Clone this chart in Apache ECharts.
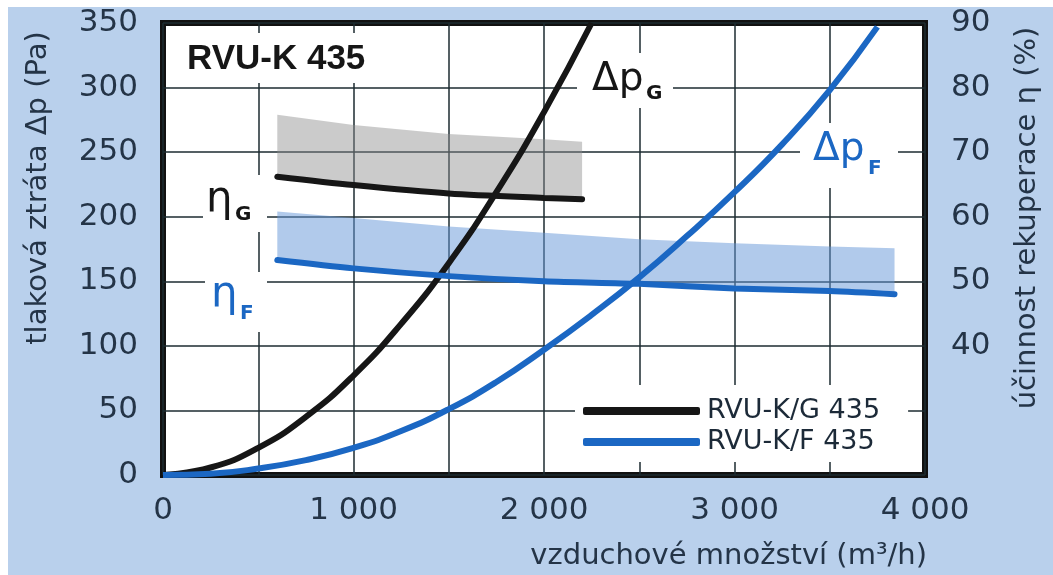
<!DOCTYPE html>
<html><head><meta charset="utf-8">
<script src="https://cdn.jsdelivr.net/npm/echarts@6/dist/echarts.min.js"></script>
<style>html,body{margin:0;padding:0;background:#fff}#c{width:1053px;height:575px}</style>
</head><body><div id="c"></div>
<script>
// ---- data ----
const dpG_x = [0, 250, 500, 750, 1000, 1250, 1500, 1750, 2000, 2250];
const dpG_y = [0, 5.8, 21, 45, 77, 117, 164, 219, 281, 350];
const dpF_x = [0, 250, 500, 750, 1000, 1250, 1500, 1750, 2000, 2250, 2500, 2750, 3000, 3250, 3500, 3750];
const dpF_y = [0, 1, 5, 11.5, 21, 34, 51, 72, 97, 124, 153, 185, 219, 256, 298, 347];
const etaG_x = [600, 1000, 1500, 2000, 2200];
const etaG_y = [66.2, 64.9, 63.6, 62.9, 62.7];
const etaG_top = [75.8, 74.2, 72.8, 72.0, 71.6];
const etaF_x = [600, 1000, 1500, 2000, 2500, 3000, 3500, 3840];
const etaF_y = [53.3, 52.0, 50.8, 50.0, 49.6, 48.9, 48.5, 48.0];
const etaF_top = [60.8, 59.8, 58.5, 57.5, 56.5, 55.9, 55.4, 55.1];
const xLabelValues = [0, 1000, 2000, 3000, 4000];
const xLabelTexts = ['0', '1 000', '2 000', '3 000', '4 000'];
const etaLabelValues = [40, 50, 60, 70, 80, 90];
const seriesNames = ['RVU-K/G 435', 'RVU-K/F 435'];

const zip = (xs, ys) => xs.map((x, i) => [x, ys[i]]);

const BLACK = '#161616', BLUE = '#1b67c3';
const LABEL = '#243447';
const FONT = '"DejaVu Sans", sans-serif';

// band polygon between the efficiency line (bottom) and its upper limit (top)
function bandSeries(name, xs, lo, hi, fill) {
  return {
    name: name, type: 'custom', yAxisIndex: 1, z: 3, silent: true,
    data: [[xs[0], lo[0]]],
    renderItem: function (params, api) {
      const top = xs.map((x, i) => api.coord([x, hi[i]]));
      const bot = xs.map((x, i) => api.coord([x, lo[i]])).reverse();
      return {type: 'polygon', shape: {points: top.concat(bot)}, style: {fill: fill}};
    }
  };
}

const chart = echarts.init(document.getElementById('c'), null, {renderer: 'canvas'});
chart.setOption({
  backgroundColor: '#b9d0ec',
  animation: false,
  grid: {left: 163, right: 128, top: 23, bottom: 100, show: true,
         backgroundColor: '#fff', borderColor: '#111', borderWidth: 6},
  xAxis: {type: 'value', min: 0, max: 4000, interval: 500,
    axisLine: {show: false}, axisTick: {show: false},
    splitLine: {show: true, lineStyle: {color: '#1c2b30', width: 1.5}},
    axisLabel: {margin: 20, color: LABEL, fontFamily: FONT, fontSize: 31,
      formatter: v => { const i = xLabelValues.indexOf(v); return i >= 0 ? xLabelTexts[i] : ''; }}
  },
  yAxis: [
    {type: 'value', min: 0, max: 350, interval: 50,
      axisLine: {show: false}, axisTick: {show: false},
      splitLine: {show: true, lineStyle: {color: '#1c2b30', width: 1.5}},
      axisLabel: {margin: 25, color: LABEL, fontFamily: FONT, fontSize: 31}},
    {type: 'value', min: 20, max: 90, interval: 10, position: 'right',
      axisLine: {show: false}, axisTick: {show: false}, splitLine: {show: false},
      axisLabel: {margin: 26, color: LABEL, fontFamily: FONT, fontSize: 31,
        formatter: v => etaLabelValues.indexOf(v) >= 0 ? String(v) : ''}}
  ],
  legend: {data: seriesNames, orient: 'vertical', left: 575, top: 385,
    backgroundColor: '#fff', padding: [11, 28, 5, 8], itemGap: 1,
    itemWidth: 117, itemHeight: 8, icon: 'roundRect', selectedMode: false,
    textStyle: {fontFamily: FONT, fontSize: 27, color: '#1c2a38', lineHeight: 30, padding: [0,0,0,2]}},
  series: [
    bandSeries('pásmo G', etaG_x, etaG_y, etaG_top, 'rgba(140,140,140,0.45)'),
    bandSeries('pásmo F', etaF_x, etaF_y, etaF_top, 'rgba(100,150,215,0.5)'),
    {name: seriesNames[0], type: 'line', data: zip(dpG_x, dpG_y), smooth: 0.5, showSymbol: false, z: 5,
      itemStyle: {color: BLACK}, lineStyle: {color: BLACK, width: 6}},
    {name: seriesNames[1], type: 'line', data: zip(dpF_x, dpF_y), smooth: 0.5, showSymbol: false, z: 5,
      itemStyle: {color: BLUE}, lineStyle: {color: BLUE, width: 6}},
    {name: seriesNames[0], type: 'line', yAxisIndex: 1, data: zip(etaG_x, etaG_y), smooth: 0.3,
      showSymbol: false, z: 5, itemStyle: {color: BLACK}, lineStyle: {color: BLACK, width: 6, cap: 'round'}},
    {name: seriesNames[1], type: 'line', yAxisIndex: 1, data: zip(etaF_x, etaF_y), smooth: 0.3,
      showSymbol: false, z: 5, itemStyle: {color: BLUE}, lineStyle: {color: BLUE, width: 6, cap: 'round'}}
  ],
  graphic: {elements: [
    {type: 'rect', z: 0, shape: {x: 0, y: 0, width: 1053, height: 7}, style: {fill: '#fff'}},
    {type: 'rect', z: 0, shape: {x: 0, y: 0, width: 8, height: 575}, style: {fill: '#fff'}},
    // axis names
    {type: 'text', z: 1, x: 38, y: 188, rotation: Math.PI / 2,
      style: {text: 'tlaková ztráta Δp (Pa)', font: '29px ' + FONT, fill: LABEL, align: 'center', verticalAlign: 'middle'}},
    {type: 'text', z: 1, x: 1027, y: 218, rotation: Math.PI / 2,
      style: {text: 'účinnost rekuperace η (%)', font: '29px ' + FONT, fill: LABEL, align: 'center', verticalAlign: 'middle'}},
    {type: 'text', z: 1, x: 927, y: 556,
      style: {text: 'vzduchové množství (m³/h)', font: '29px ' + FONT, fill: LABEL, align: 'right', verticalAlign: 'middle'}},
    // title
    {type: 'rect', z: 1, shape: {x: 175, y: 33, width: 200, height: 50}, style: {fill: '#fff'}},
    {type: 'text', z: 1.5, x: 187, y: 59,
      style: {text: 'RVU-K 435', font: 'bold 35px "Liberation Sans", sans-serif', fill: BLACK, align: 'left', verticalAlign: 'middle'}},
    // Δp_G
    {type: 'rect', z: 1, shape: {x: 577, y: 53, width: 96, height: 55}, style: {fill: '#fff'}},
    {type: 'text', z: 1.5, x: 592, y: 80,
      style: {text: 'Δp', font: '39px ' + FONT, fill: BLACK, align: 'left', verticalAlign: 'middle'}},
    {type: 'text', z: 1.5, x: 646, y: 94,
      style: {text: 'G', font: 'bold 20px ' + FONT, fill: BLACK, align: 'left', verticalAlign: 'middle'}},
    // Δp_F
    {type: 'rect', z: 1, shape: {x: 800, y: 123, width: 98, height: 65}, style: {fill: '#fff'}},
    {type: 'text', z: 1.5, x: 813, y: 150,
      style: {text: 'Δp', font: '39px ' + FONT, fill: BLUE, align: 'left', verticalAlign: 'middle'}},
    {type: 'text', z: 1.5, x: 868, y: 169,
      style: {text: 'F', font: 'bold 20px ' + FONT, fill: BLUE, align: 'left', verticalAlign: 'middle'}},
    // η_G
    {type: 'rect', z: 1, shape: {x: 203, y: 175, width: 64, height: 57}, style: {fill: '#fff'}},
    {type: 'text', z: 1.5, x: 206, y: 200,
      style: {text: 'η', font: '42px ' + FONT, fill: BLACK, align: 'left', verticalAlign: 'middle'}},
    {type: 'text', z: 1.5, x: 235, y: 215,
      style: {text: 'G', font: 'bold 20px ' + FONT, fill: BLACK, align: 'left', verticalAlign: 'middle'}},
    // η_F
    {type: 'rect', z: 1, shape: {x: 205, y: 272, width: 62, height: 60}, style: {fill: '#fff'}},
    {type: 'text', z: 1.5, x: 211, y: 295,
      style: {text: 'η', font: '42px ' + FONT, fill: BLUE, align: 'left', verticalAlign: 'middle'}},
    {type: 'text', z: 1.5, x: 240, y: 314,
      style: {text: 'F', font: 'bold 20px ' + FONT, fill: BLUE, align: 'left', verticalAlign: 'middle'}}
  ]}
});
</script></body></html>
